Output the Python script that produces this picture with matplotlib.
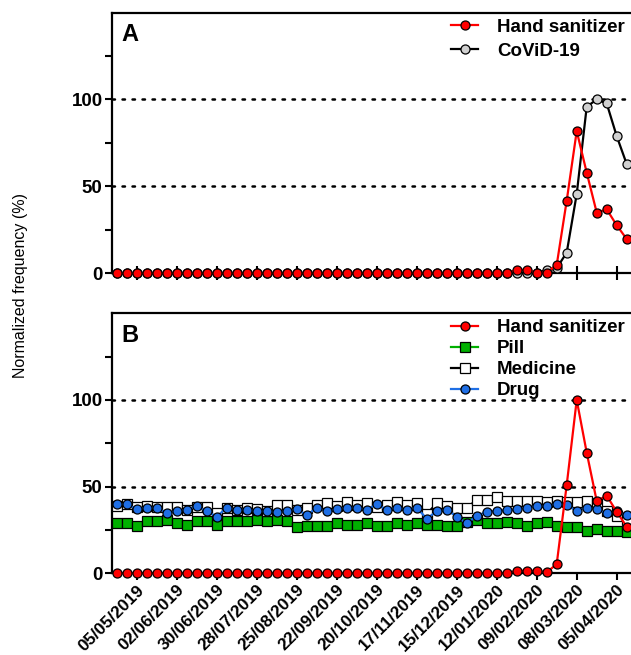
import matplotlib
matplotlib.use('Agg')
import matplotlib.pyplot as plt
import matplotlib.dates as mdates
import pandas as pd

plt.rcParams['font.family'] = ['Liberation Sans', 'DejaVu Sans']

# weekly dates, 21/04/2019 .. 12/04/2020 (52 weeks)
weeks = pd.date_range('2019-04-21', periods=52, freq='7D')
tick_dates = pd.date_range('2019-05-05', '2020-04-05', freq='28D')

# panel A
sanitizer_a = [0] * 40 + [2, 2, 0.4, 0.4, 4.8, 41.8, 81.8, 57.9, 34.9, 36.8, 27.6, 19.7]
covid = [0] * 43 + [2, 3, 11.9, 45.6, 95.8, 100, 97.7, 78.9, 62.8]

# panel B
sanitizer_b = [0] * 40 + [1.5, 1.5, 1.5, 0.5, 5.4, 51, 100, 69.6, 41.7, 44.8, 35.5, 26.9]
pill = [28.8, 28.8, 27.5, 30, 30, 30.8, 28.8, 27.7, 30, 30, 27.7, 30, 30, 30, 30.8, 30,
        31.0, 30, 26.5, 27.5, 27.5, 27.5, 28.8, 27.7, 27.7, 28.8, 27.5, 27.5, 28.8, 27.7,
        28.8, 27.7, 27.7, 27.5, 27.5, 29.8, 30.8, 28.8, 28.8, 29.8, 28.8, 27.5, 28.8, 29.8,
        27.5, 26.5, 26.5, 24.6, 25.6, 24.6, 24.6, 23.7]
medicine = [39, 39.8, 38.5, 39, 38.5, 38.5, 38.5, 36.5, 38, 38, 35, 37.8, 36.5, 37.5, 37, 36,
            39.6, 39.4, 36.5, 37.5, 39.4, 40.4, 38.8, 41.2, 39.2, 40.4, 38.5, 39.2, 41.2, 39.4,
            40.4, 34.2, 40.4, 38.6, 37.9, 37.9, 42.3, 42.3, 43.8, 41.9, 41.9, 41.9, 41.9, 41.3,
            41.9, 41.2, 41.2, 41.9, 40.4, 36.2, 33, 30.8]
drug = [39.8, 40, 36.9, 37.9, 37.7, 35, 35.8, 36.7, 38.7, 35.8, 32.7, 37.9, 36.7, 36.7, 35.8,
        35.8, 35.3, 35.8, 36.9, 33.7, 37.7, 35.8, 36.9, 37.9, 37.7, 36.7, 39.8, 36.7, 37.9,
        36.7, 37.9, 31.5, 35.8, 36.6, 32.7, 28.8, 33, 35.6, 36, 36.5, 36.9, 37.9, 38.8, 38.8,
        40, 39.2, 36, 37.9, 36.9, 34.6, 35.8, 33.7]

RED = '#ff0000'
GREEN = '#00b000'
BLUE = '#1f6fe5'
GREY = '#d0d0d0'

fig = plt.figure(figsize=(6.31, 6.55), dpi=100)
ax1 = fig.add_axes([0.178, 0.5828, 0.822, 0.398])
ax2 = fig.add_axes([0.178, 0.1247, 0.822, 0.397])

ms = 6.5
mew = 0.9
leg_font = {'weight': 'bold', 'size': 13.5}


def style(ax, letter, tickdir):
    ax.set_ylim(0, 150)
    ax.set_xlim(weeks[0] - pd.Timedelta(days=3.1), weeks[0] + pd.Timedelta(days=360))
    for y in (50, 100):
        ax.axhline(y, color='black', lw=1.8, ls=(0, (1, 3)), dash_capstyle='round', zorder=1)
    ax.spines['right'].set_visible(False)
    for s in ('left', 'bottom', 'top'):
        ax.spines[s].set_linewidth(1.6)
    ax.set_yticks([0, 50, 100])
    ax.set_yticks([25, 75, 125], minor=True)
    ax.tick_params(axis='y', which='both', direction='out', length=5, width=1.5,
                   labelsize=13.5, pad=2)
    ax.tick_params(axis='x', which='major', direction=tickdir, length=10 if tickdir == 'inout' else 5,
                   width=1.5, labelsize=12.3, pad=1.5)
    for lab in ax.get_yticklabels():
        lab.set_fontweight('bold')
    ax.set_xticks(tick_dates)
    ax.xaxis.set_major_formatter(mdates.DateFormatter('%d/%m/%Y'))
    ax.text(0.018, 0.96, letter, transform=ax.transAxes, fontsize=17, fontweight='bold',
            va='top', ha='left')


style(ax1, 'A', 'inout')
style(ax2, 'B', 'out')

ax1.plot(weeks, covid, color='black', lw=1.6, marker='o', ms=ms, mfc=GREY, mec='black',
         mew=mew, label='CoViD-19', zorder=3, clip_on=False)
ax1.plot(weeks, sanitizer_a, color=RED, lw=1.6, marker='o', ms=ms, mfc=RED, mec='black',
         mew=mew, label='Hand sanitizer', zorder=4, clip_on=False)
ax1.set_xticklabels([])
h, l = ax1.get_legend_handles_labels()
ax1.legend(h[::-1], l[::-1], loc='upper right', bbox_to_anchor=(1.01, 1.02), frameon=False,
           prop=leg_font, handlelength=1.45, handletextpad=1.0,
           labelspacing=0.38, borderaxespad=0.2)

ax2.plot(weeks, pill, color=GREEN, lw=1.6, marker='s', ms=ms, mfc=GREEN, mec='black',
         mew=mew, label='Pill', zorder=3, clip_on=False)
ax2.plot(weeks, medicine, color='black', lw=1.6, marker='s', ms=ms, mfc='white', mec='black',
         mew=mew, label='Medicine', zorder=3, clip_on=False)
ax2.plot(weeks, drug, color=BLUE, lw=1.6, marker='o', ms=ms, mfc=BLUE, mec='black',
         mew=mew, label='Drug', zorder=3, clip_on=False)
ax2.plot(weeks, sanitizer_b, color=RED, lw=1.6, marker='o', ms=ms, mfc=RED, mec='black',
         mew=mew, label='Hand sanitizer', zorder=4, clip_on=False)
h, l = ax2.get_legend_handles_labels()
order = [3, 0, 1, 2]
ax2.legend([h[i] for i in order], [l[i] for i in order], loc='upper right',
           bbox_to_anchor=(1.01, 1.02), frameon=False,
           prop=leg_font, handlelength=1.45, handletextpad=1.0,
           labelspacing=0.2, borderaxespad=0.2)
for lab in ax2.get_xticklabels():
    lab.set_rotation(45)
    lab.set_ha('right')
    lab.set_va('top')
    lab.set_rotation_mode('anchor')
    lab.set_fontweight('bold')

fig.text(0.032, 1 - 286 / 655, 'Normalized frequency (%)', rotation=90, fontsize=11.5,
         ha='center', va='center')

fig.savefig('out.png', dpi=100)
